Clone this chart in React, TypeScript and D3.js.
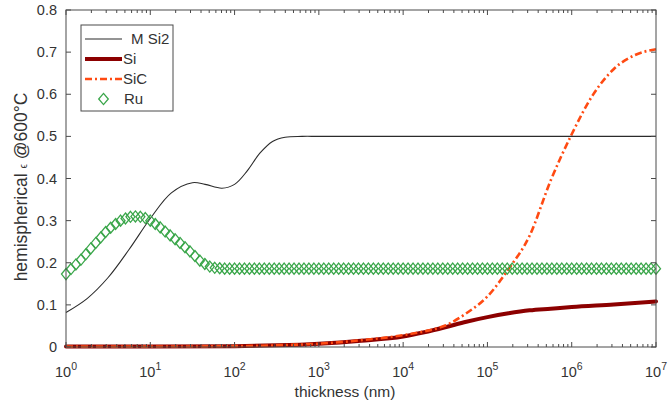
import React from "react";
import * as d3 from "d3";

// ---- data ----
const msi2LogT = [0, 0.25, 0.5, 0.75, 1.0, 1.25, 1.5, 1.65, 1.85, 2.0, 2.15, 2.3, 2.45, 2.6, 2.8, 3, 4, 5, 6, 7];
const msi2Val = [0.082, 0.115, 0.165, 0.232, 0.305, 0.366, 0.39, 0.386, 0.377, 0.386, 0.418, 0.46, 0.488, 0.498, 0.5, 0.5, 0.5, 0.5, 0.5, 0.5];

const siLogT = [0, 1, 2, 2.5, 3, 3.5, 4, 4.25, 4.5, 4.75, 5, 5.25, 5.5, 5.75, 6, 6.5, 7];
const siVal = [0.001, 0.001, 0.002, 0.004, 0.008, 0.015, 0.025, 0.035, 0.047, 0.06, 0.071, 0.08, 0.087, 0.091, 0.095, 0.101, 0.108];

const sicLogT = [0, 1, 2, 2.5, 3, 3.5, 4, 4.25, 4.5, 4.75, 5, 5.25, 5.5, 5.75, 6, 6.25, 6.5, 6.75, 7];
const sicVal = [0.001, 0.001, 0.002, 0.004, 0.008, 0.016, 0.028, 0.037, 0.051, 0.08, 0.12, 0.185, 0.264, 0.395, 0.505, 0.598, 0.66, 0.693, 0.707];

// Ru markers, sampled evenly in log(thickness) from 10^0 to 10^7
const ruVal = [
  0.173, 0.185, 0.196, 0.207, 0.22, 0.234, 0.247, 0.26, 0.273, 0.283,
  0.292, 0.3, 0.305, 0.309, 0.31, 0.309, 0.306, 0.3, 0.292, 0.284,
  0.274, 0.265, 0.256, 0.247, 0.237, 0.227, 0.216, 0.205, 0.197, 0.191,
  0.188, 0.187, 0.186, 0.186, 0.186, 0.186, 0.186, 0.186, 0.186, 0.186,
  0.186, 0.186, 0.186, 0.186, 0.186, 0.186, 0.186, 0.186, 0.186, 0.186,
  0.186, 0.186, 0.186, 0.186, 0.186, 0.186, 0.186, 0.186, 0.186, 0.186,
  0.186, 0.186, 0.186, 0.186, 0.186, 0.186, 0.186, 0.186, 0.186, 0.186,
  0.186, 0.186, 0.186, 0.186, 0.186, 0.186, 0.186, 0.186, 0.186, 0.186,
  0.186, 0.186, 0.186, 0.186, 0.186, 0.186, 0.186, 0.186, 0.186, 0.186,
  0.186, 0.186, 0.186, 0.186, 0.186, 0.186, 0.186, 0.186, 0.186, 0.186,
  0.186, 0.186, 0.186, 0.186, 0.186, 0.186, 0.186, 0.186, 0.186, 0.186,
  0.186, 0.186, 0.186, 0.186, 0.186, 0.186, 0.186, 0.186, 0.186, 0.186,
];

const xTickExps = [0, 1, 2, 3, 4, 5, 6, 7];
const yTicks = [0, 0.1, 0.2, 0.3, 0.4, 0.5, 0.6, 0.7, 0.8];
const yTickLabels = ["0", "0.1", "0.2", "0.3", "0.4", "0.5", "0.6", "0.7", "0.8"];

const seriesNames = ["M Si2", "Si", "SiC", "Ru"];

// ---- layout ----
const W = 669;
const H = 406;
const L = 66, R = 656, T = 10, B = 347;
const AX = "#4a4a4a";
const TXT = "#333333";
const FONT = "'Liberation Sans', Arial, sans-serif";
const C_MSI2 = "#2b2b2b";
const C_SI = "#8c0000";
const C_SIC = "#ff4a12";
const C_RU = "#3aa64a";

export default function App() {
  const x = d3.scaleLog().domain([1, 1e7]).range([L, R]);
  const y = d3.scaleLinear().domain([0, 0.8]).range([B, T]);

  const mkLine = (curve: any) =>
    d3.line<[number, number]>()
      .x((d) => x(Math.pow(10, d[0])))
      .y((d) => y(d[1]))
      .curve(curve);

  const msi2Path = mkLine(d3.curveCatmullRom.alpha(0.5))(msi2LogT.map((t, i) => [t, msi2Val[i]]) as [number, number][]);
  const siPath = mkLine(d3.curveMonotoneX)(siLogT.map((t, i) => [t, siVal[i]]) as [number, number][]);
  const sicPath = mkLine(d3.curveMonotoneX)(sicLogT.map((t, i) => [t, sicVal[i]]) as [number, number][]);

  const ruPts = ruVal.map((v, i) => [Math.pow(10, (7 * i) / (ruVal.length - 1)), v]);
  const diamond = (cx: number, cy: number, hw = 4.5, hh = 5.5) =>
    `M${cx},${cy - hh}L${cx + hw},${cy}L${cx},${cy + hh}L${cx - hw},${cy}Z`;

  const minor: number[] = [];
  for (let d = 0; d < 7; d++) for (let k = 2; k <= 9; k++) minor.push(k * Math.pow(10, d));

  const legY = [39, 59, 79, 99];

  return (
    <svg width={W} height={H} style={{ position: "fixed", left: 0, top: 0, background: "#fff" }} fontFamily={FONT}>
      <rect x={0} y={0} width={W} height={H} fill="#fff" />
      {/* series */}
      <path d={siPath || ""} fill="none" stroke={C_SI} strokeWidth={4} strokeLinecap="round" />
      <path d={sicPath || ""} fill="none" stroke={C_SIC} strokeWidth={2.6} strokeDasharray="7,3,2,3" />
      <path d={msi2Path || ""} fill="none" stroke={C_MSI2} strokeWidth={1.1} />
      {ruPts.map((p, i) => (
        <path key={i} d={diamond(x(p[0]), y(p[1]))} fill="none" stroke={C_RU} strokeWidth={1.3} />
      ))}

      {/* axes box */}
      <rect x={L} y={T} width={R - L} height={B - T} fill="none" stroke={AX} strokeWidth={1} />
      {xTickExps.map((e) => {
        const px = x(Math.pow(10, e));
        return (
          <g key={"xt" + e}>
            <line x1={px} x2={px} y1={B} y2={B - 5} stroke={AX} />
            <line x1={px} x2={px} y1={T} y2={T + 5} stroke={AX} />
            <text x={px} y={377} textAnchor="middle" fontSize={14.5} fill={TXT}>
              10<tspan dy={-7.5} fontSize={10.5}>{e}</tspan>
            </text>
          </g>
        );
      })}
      {minor.map((v, i) => {
        const px = x(v);
        return (
          <g key={"mt" + i}>
            <line x1={px} x2={px} y1={B} y2={B - 3} stroke={AX} />
            <line x1={px} x2={px} y1={T} y2={T + 3} stroke={AX} />
          </g>
        );
      })}
      {yTicks.map((v, i) => {
        const py = y(v);
        return (
          <g key={"yt" + i}>
            <line x1={L} x2={L + 5} y1={py} y2={py} stroke={AX} />
            <line x1={R} x2={R - 5} y1={py} y2={py} stroke={AX} />
            <text x={57} y={py + 5} textAnchor="end" fontSize={14.5} fill={TXT}>
              {yTickLabels[i]}
            </text>
          </g>
        );
      })}

      {/* axis labels */}
      <text x={345} y={397} textAnchor="middle" fontSize={15.5} fill={TXT}>thickness (nm)</text>
      <text transform="translate(27,187) rotate(-90)" textAnchor="middle" fontSize={17.5} fill={TXT}>
        hemispherical <tspan fontSize={10}>ϵ</tspan> @600°C
      </text>

      {/* legend */}
      <rect x={81} y={25} width={92} height={86} fill="#fff" stroke={AX} strokeWidth={1} />
      <line x1={85} x2={122} y1={legY[0]} y2={legY[0]} stroke={C_MSI2} strokeWidth={1.1} />
      <line x1={85} x2={122} y1={legY[1]} y2={legY[1]} stroke={C_SI} strokeWidth={4} />
      <line x1={85} x2={122} y1={legY[2]} y2={legY[2]} stroke={C_SIC} strokeWidth={2.6} strokeDasharray="7,3,2,3" />
      <path d={diamond(103.5, legY[3], 4.8, 5.6)} fill="none" stroke={C_RU} strokeWidth={1.3} />
      <text x={131} y={legY[0] + 5} fontSize={15} fill={TXT}>{seriesNames[0]}</text>
      <text x={123} y={legY[1] + 5} fontSize={15} fill={TXT}>{seriesNames[1]}</text>
      <text x={123} y={legY[2] + 5} fontSize={15} fill={TXT}>{seriesNames[2]}</text>
      <text x={124} y={legY[3] + 5} fontSize={15} fill={TXT}>{seriesNames[3]}</text>
    </svg>
  );
}
